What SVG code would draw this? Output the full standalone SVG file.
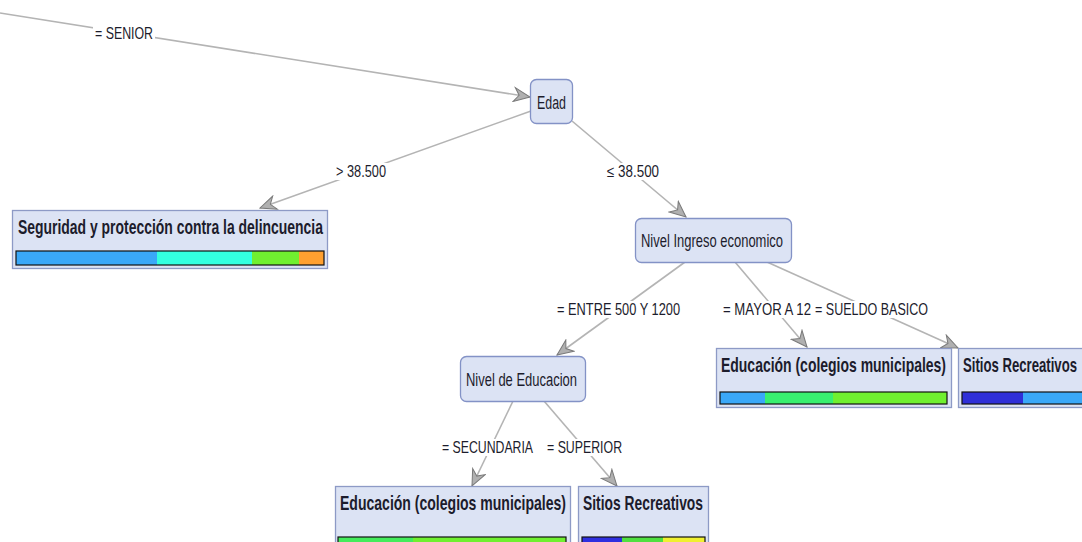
<svg xmlns="http://www.w3.org/2000/svg" width="1082" height="542" viewBox="0 0 1082 542">
<style>
text{font-family:"Liberation Sans",Arial,sans-serif;fill:#1c1c2c}
.inner{fill:#dce3f4;stroke:#8392c6;stroke-width:1.3}
.leaf{fill:#dce3f4;stroke:#8d9ac6;stroke-width:1.3}
.nl{font-size:19px}
.lt{font-size:20px;font-weight:bold}
.el{font-size:16px}
.lbg{fill:#ffffff}
.edge{stroke:#b4b4b4;stroke-width:1.6;fill:none;marker-end:url(#arr)}
.bar{stroke:#111;stroke-width:1.2;fill:none}
</style>
<defs>
<marker id="arr" markerUnits="userSpaceOnUse" markerWidth="18" markerHeight="16" viewBox="0 0 18 16" refX="17" refY="8" orient="auto">
<path d="M1,1 L17,8 L1,15 L6,8 Z" fill="#b0b0b0" stroke="#7a7a7a" stroke-width="1"/>
</marker>
</defs>
<rect width="1082" height="542" fill="#ffffff"/>
<g id="connectors">
<line class="edge" x1="0" y1="13" x2="530" y2="97"/>
<line class="edge" x1="531" y1="111" x2="260" y2="208"/>
<line class="edge" x1="572" y1="121" x2="686" y2="217"/>
<line class="edge" x1="685" y1="262" x2="557" y2="355"/>
<line class="edge" x1="735" y1="262" x2="807" y2="347"/>
<line class="edge" x1="767" y1="262" x2="958" y2="348"/>
<line class="edge" x1="513" y1="401" x2="472" y2="486"/>
<line class="edge" x1="544" y1="401" x2="617" y2="486"/>
</g>
<g id="edge-labels">
<rect class="lbg" x="93" y="25" width="62" height="17"/>
<text class="el" transform="translate(95,39) scale(0.78,1)" textLength="74.4" lengthAdjust="spacingAndGlyphs">= SENIOR</text>
<rect class="lbg" x="334" y="163" width="54" height="17"/>
<text class="el" transform="translate(336,177) scale(0.78,1)" textLength="64.1" lengthAdjust="spacingAndGlyphs">&gt; 38.500</text>
<rect class="lbg" x="605" y="163" width="56" height="17"/>
<text class="el" transform="translate(607,177) scale(0.78,1)" textLength="66.7" lengthAdjust="spacingAndGlyphs">≤ 38.500</text>
<rect class="lbg" x="555" y="301" width="127" height="17"/>
<text class="el" transform="translate(557,315) scale(0.78,1)" textLength="157.7" lengthAdjust="spacingAndGlyphs">= ENTRE 500 Y 1200</text>
<rect class="lbg" x="721" y="301" width="93" height="17"/>
<text class="el" transform="translate(723,315) scale(0.78,1)" textLength="112.8" lengthAdjust="spacingAndGlyphs">= MAYOR A 12</text>
<rect class="lbg" x="814" y="301" width="116" height="17"/>
<text class="el" transform="translate(815,315) scale(0.78,1)" textLength="144.9" lengthAdjust="spacingAndGlyphs">= SUELDO BASICO</text>
<rect class="lbg" x="440" y="439" width="95" height="17"/>
<text class="el" transform="translate(442,453) scale(0.78,1)" textLength="116.7" lengthAdjust="spacingAndGlyphs">= SECUNDARIA</text>
<rect class="lbg" x="545" y="439" width="79" height="17"/>
<text class="el" transform="translate(547,453) scale(0.78,1)" textLength="96.2" lengthAdjust="spacingAndGlyphs">= SUPERIOR</text>
</g>
<g id="node-edad">
<rect class="inner" x="530.5" y="79.5" width="42" height="44" rx="6"/>
<text class="nl" transform="translate(537,109) scale(0.68,1)" textLength="42.6" lengthAdjust="spacingAndGlyphs">Edad</text>
</g>
<g id="node-seguridad">
<rect class="leaf" x="12.5" y="210.5" width="315" height="58"/>
<text class="lt" transform="translate(18,234) scale(0.7,1)" textLength="435.7" lengthAdjust="spacingAndGlyphs">Seguridad y protección contra la delincuencia</text>
<rect x="16" y="251" width="141" height="14" fill="#3aa8f8"/>
<rect x="157" y="251" width="95" height="14" fill="#33ffe0"/>
<rect x="252" y="251" width="47" height="14" fill="#70f030"/>
<rect x="299" y="251" width="25" height="14" fill="#ffa030"/>
<rect class="bar" x="16" y="251" width="308" height="14"/>
</g>
<g id="node-ingreso">
<rect class="inner" x="635.5" y="218.5" width="156" height="44" rx="6"/>
<text class="nl" transform="translate(641,247) scale(0.68,1)" textLength="208.8" lengthAdjust="spacingAndGlyphs">Nivel Ingreso economico</text>
</g>
<g id="node-educacion-nivel">
<rect class="inner" x="460.5" y="356.5" width="125" height="45" rx="6"/>
<text class="nl" transform="translate(466,386) scale(0.68,1)" textLength="163.2" lengthAdjust="spacingAndGlyphs">Nivel de Educacion</text>
</g>
<g id="node-educ-right">
<rect class="leaf" x="716.5" y="348.5" width="235" height="59"/>
<text class="lt" transform="translate(721,372) scale(0.7,1)" textLength="321.4" lengthAdjust="spacingAndGlyphs">Educación (colegios municipales)</text>
<rect x="720" y="392" width="45" height="12" fill="#3aa8f8"/>
<rect x="765" y="392" width="68" height="12" fill="#38f070"/>
<rect x="833" y="392" width="114" height="12" fill="#70f030"/>
<rect class="bar" x="720" y="392" width="227" height="12"/>
</g>
<g id="node-sitios-right">
<rect class="leaf" x="958.5" y="348.5" width="200" height="59"/>
<text class="lt" transform="translate(963,372) scale(0.7,1)" textLength="162.9" lengthAdjust="spacingAndGlyphs">Sitios Recreativos</text>
<rect x="962" y="392" width="61" height="12" fill="#2f2fd8"/>
<rect x="1023" y="392" width="120" height="12" fill="#3aa8f8"/>
<rect class="bar" x="962" y="392" width="180" height="12"/>
</g>
<g id="node-educ-bottom">
<rect class="leaf" x="335.5" y="486.5" width="235" height="70"/>
<text class="lt" transform="translate(340,510) scale(0.7,1)" textLength="322.9" lengthAdjust="spacingAndGlyphs">Educación (colegios municipales)</text>
<rect x="338" y="537" width="75" height="12" fill="#44ec5c"/>
<rect x="413" y="537" width="153" height="12" fill="#70f030"/>
<rect class="bar" x="338" y="537" width="228" height="12"/>
</g>
<g id="node-sitios-bottom">
<rect class="leaf" x="578.5" y="486.5" width="130" height="70"/>
<text class="lt" transform="translate(583,510) scale(0.7,1)" textLength="171.4" lengthAdjust="spacingAndGlyphs">Sitios Recreativos</text>
<rect x="582" y="537" width="40" height="12" fill="#2f2fe0"/>
<rect x="622" y="537" width="41" height="12" fill="#50e040"/>
<rect x="663" y="537" width="42" height="12" fill="#f0f030"/>
<rect class="bar" x="582" y="537" width="123" height="12"/>
</g>
</svg>
